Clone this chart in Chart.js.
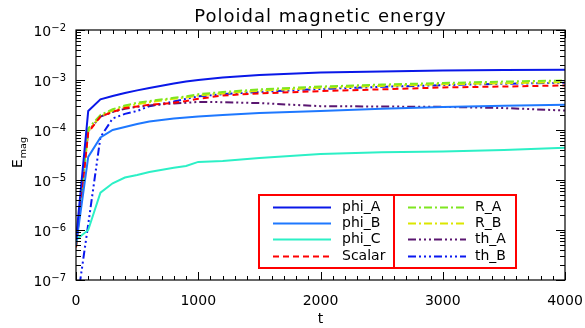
<!DOCTYPE html>
<html>
<head>
<meta charset="utf-8">
<script src="https://cdn.jsdelivr.net/npm/chart.js@4.4.1/dist/chart.umd.min.js"></script>
<style>
  html, body { margin: 0; padding: 0; background: #fff; }
  #wrap { width: 585px; height: 328px; }
</style>
</head>
<body>
<div id="wrap"><canvas id="c" width="585" height="328"></canvas></div>
<script>
// ---- data ----
const times = [0, 100, 200, 300, 400, 500, 600, 800, 900, 1000, 1200, 1500, 2000, 2500, 3000, 3500, 4000];
const phiA   = [6.3e-7, 2.4e-4, 4.1e-4, 4.8e-4, 5.5e-4, 6.2e-4, 6.9e-4, 8.5e-4, 9.3e-4, 1.0e-3, 1.12e-3, 1.26e-3, 1.41e-3, 1.48e-3, 1.55e-3, 1.58e-3, 1.6e-3];
const phiB   = [5e-7, 2.9e-5, 7.1e-5, 1.0e-4, 1.15e-4, 1.32e-4, 1.48e-4, 1.7e-4, 1.78e-4, 1.86e-4, 2.0e-4, 2.2e-4, 2.4e-4, 2.65e-4, 2.9e-4, 3.05e-4, 3.2e-4];
const phiC   = [6.3e-7, 1.0e-6, 5.6e-6, 8.6e-6, 1.12e-5, 1.26e-5, 1.45e-5, 1.75e-5, 1.9e-5, 2.3e-5, 2.4e-5, 2.75e-5, 3.3e-5, 3.6e-5, 3.7e-5, 4.0e-5, 4.4e-5];
const scalar = [4.5e-7, 8.9e-5, 1.86e-4, 2.3e-4, 2.75e-4, 2.95e-4, 3.2e-4, 3.5e-4, 3.8e-4, 4.2e-4, 4.9e-4, 5.4e-4, 6.0e-4, 6.5e-4, 7.1e-4, 7.4e-4, 7.8e-4];
const rA     = [5e-7, 1.07e-4, 2.0e-4, 2.6e-4, 3.1e-4, 3.5e-4, 3.8e-4, 4.4e-4, 4.7e-4, 5.2e-4, 5.75e-4, 6.5e-4, 7.4e-4, 8.1e-4, 8.7e-4, 9.3e-4, 9.8e-4];
const rB     = [4.5e-7, 9.5e-5, 1.9e-4, 2.45e-4, 2.9e-4, 3.3e-4, 3.6e-4, 4.2e-4, 4.45e-4, 4.9e-4, 5.4e-4, 6.1e-4, 7.0e-4, 7.6e-4, 8.2e-4, 8.6e-4, 9.0e-4];
const thA    = [5e-7, 9.5e-5, 1.85e-4, 2.3e-4, 2.65e-4, 2.9e-4, 3.1e-4, 3.4e-4, 3.5e-4, 3.65e-4, 3.6e-4, 3.45e-4, 3.0e-4, 2.95e-4, 2.9e-4, 2.75e-4, 2.45e-4];
const thB    = [2.5e-8, 1.3e-6, 7.2e-5, 1.7e-4, 2.1e-4, 2.4e-4, 3.0e-4, 3.7e-4, 4.2e-4, 4.7e-4, 5.2e-4, 5.8e-4, 6.6e-4, 7.3e-4, 7.9e-4, 8.4e-4, 8.8e-4];
const seriesNames = ['phi_A', 'phi_B', 'phi_C', 'Scalar', 'R_A', 'R_B', 'th_A', 'th_B'];
const xTickValues = [0, 1000, 2000, 3000, 4000];
const yExponents = [-2, -3, -4, -5, -6, -7];
const chartTitle = 'Poloidal magnetic energy';
const xTitle = 't';

// ---- styles ----
const DD = [8, 3, 2, 3];
const DDD = [8, 3, 2, 3, 2, 3, 2, 3];
const styles = [
  { c: '#0a18e8', d: [] },
  { c: '#1e78ff', d: [] },
  { c: '#2cf0c6', d: [] },
  { c: '#ff0000', d: [6, 4] },
  { c: '#7fe620', d: DD },
  { c: '#dce600', d: DD },
  { c: '#5a1670', d: DDD },
  { c: '#0a18f0', d: DDD }
];
const values = [phiA, phiB, phiC, scalar, rA, rB, thA, thB];

const datasets = seriesNames.map((n, i) => ({
  label: n,
  data: times.map((t, k) => ({ x: t, y: values[i][k] })),
  borderColor: styles[i].c,
  backgroundColor: styles[i].c,
  borderDash: styles[i].d,
  borderWidth: 2,
  pointRadius: 0,
  tension: 0,
  fill: false
}));

const FONT = '"DejaVu Sans", "Liberation Sans", sans-serif';

const decorations = {
  id: 'decorations',
  afterDatasetsDraw(chart) {
    const ctx = chart.ctx;
    const a = chart.chartArea;
    const xs = chart.scales.x, ys = chart.scales.y;
    ctx.save();
    // frame
    ctx.strokeStyle = '#000';
    ctx.lineWidth = 1.2;
    ctx.setLineDash([]);
    ctx.strokeRect(a.left, a.top, a.right - a.left, a.bottom - a.top);
    // x ticks (major every 1000, minor every 100), both top and bottom, inward
    ctx.lineWidth = 1;
    ctx.beginPath();
    for (let v = 0; v <= 4000; v += 100) {
      const px = Math.round(xs.getPixelForValue(v)) + 0.5;
      const len = (v % 1000 === 0) ? 8 : 4;
      ctx.moveTo(px, a.bottom); ctx.lineTo(px, a.bottom - len);
      ctx.moveTo(px, a.top); ctx.lineTo(px, a.top + len);
    }
    // y ticks (log) both sides, inward
    for (let e = -7; e <= -2; e++) {
      for (let m = 1; m <= 9; m++) {
        if (e === -2 && m > 1) break;
        const v = m * Math.pow(10, e);
        const py = Math.round(ys.getPixelForValue(v)) + 0.5;
        const len = (m === 1) ? 9 : 5;
        ctx.moveTo(a.left, py); ctx.lineTo(a.left + len, py);
        ctx.moveTo(a.right, py); ctx.lineTo(a.right - len, py);
      }
    }
    ctx.stroke();

    // y tick labels 10^e
    ctx.fillStyle = '#000';
    yExponents.forEach(e => {
      const py = ys.getPixelForValue(Math.pow(10, e));
      const expo = '\u2212' + Math.abs(e);
      ctx.font = '10px ' + FONT;
      const we = ctx.measureText(expo).width;
      ctx.font = '14px ' + FONT;
      const wb = ctx.measureText('10').width;
      const right = a.left - 10;
      ctx.textAlign = 'left';
      ctx.textBaseline = 'alphabetic';
      ctx.fillText('10', right - we - wb, py + 6);
      ctx.font = '10px ' + FONT;
      ctx.fillText(expo, right - we, py + 1);
    });

    // title
    ctx.font = '18px ' + FONT;
    try { ctx.letterSpacing = '1px'; } catch (e) {}
    ctx.textAlign = 'center';
    ctx.textBaseline = 'alphabetic';
    ctx.fillText(chartTitle, (a.left + a.right) / 2, 22);
    try { ctx.letterSpacing = '0px'; } catch (e) {}

    // x title
    ctx.font = '14px ' + FONT;
    ctx.fillText(xTitle, (a.left + a.right) / 2, 323);

    // y title E_mag rotated
    ctx.save();
    ctx.translate(22, 168);
    ctx.rotate(-Math.PI / 2);
    ctx.textAlign = 'left';
    ctx.font = '14px ' + FONT;
    ctx.fillText('E', 0, 0);
    const wE = ctx.measureText('E').width;
    ctx.font = '9.5px ' + FONT;
    ctx.fillText('mag', wE + 1, 4);
    ctx.restore();

    // legend
    const L = 259, T = 195, R = 516, B = 268, MID = 394;
    ctx.strokeStyle = '#ff0000';
    ctx.lineWidth = 2;
    ctx.setLineDash([]);
    ctx.strokeRect(L, T, R - L, B - T);
    ctx.beginPath(); ctx.moveTo(MID, T); ctx.lineTo(MID, B); ctx.stroke();
    const rows = [207, 223, 239, 256];
    const cols = [{ x1: 273, x2: 331, tx: 342 }, { x1: 408, x2: 466, tx: 475 }];
    chart.data.datasets.forEach((ds, i) => {
      const col = cols[Math.floor(i / 4)];
      const y = rows[i % 4];
      ctx.strokeStyle = ds.borderColor;
      ctx.lineWidth = 2;
      ctx.setLineDash(ds.borderDash || []);
      ctx.beginPath(); ctx.moveTo(col.x1, y + 0.5); ctx.lineTo(col.x2, y + 0.5); ctx.stroke();
      ctx.setLineDash([]);
      ctx.fillStyle = '#000';
      ctx.font = '14px ' + FONT;
      ctx.textAlign = 'left';
      ctx.textBaseline = 'middle';
      ctx.fillText(ds.label, col.tx, y);
    });
    ctx.restore();
  }
};

new Chart(document.getElementById('c'), {
  type: 'line',
  data: { datasets },
  options: {
    responsive: false,
    animation: false,
    events: [],
    layout: { padding: { left: 0, right: 20, top: 30, bottom: 0 } },
    plugins: { legend: { display: false }, title: { display: false }, tooltip: { enabled: false } },
    scales: {
      x: {
        type: 'linear', min: 0, max: 4000,
        grid: { display: false, drawTicks: false },
        border: { display: false },
        afterBuildTicks: s => { s.ticks = xTickValues.map(v => ({ value: v })); },
        afterFit: s => { s.height = 48; s.paddingLeft = 0; s.paddingRight = 0; },
        ticks: { autoSkip: false, maxRotation: 0, padding: 13, color: '#000', font: { family: FONT, size: 14 }, callback: v => String(v) }
      },
      y: {
        type: 'logarithmic', min: 1e-7, max: 1e-2,
        grid: { display: false, drawTicks: false },
        border: { display: false },
        afterFit: s => { s.width = 76; s.paddingTop = 0; s.paddingBottom = 0; },
        ticks: { display: false }
      }
    }
  },
  plugins: [decorations]
});
</script>
</body>
</html>
